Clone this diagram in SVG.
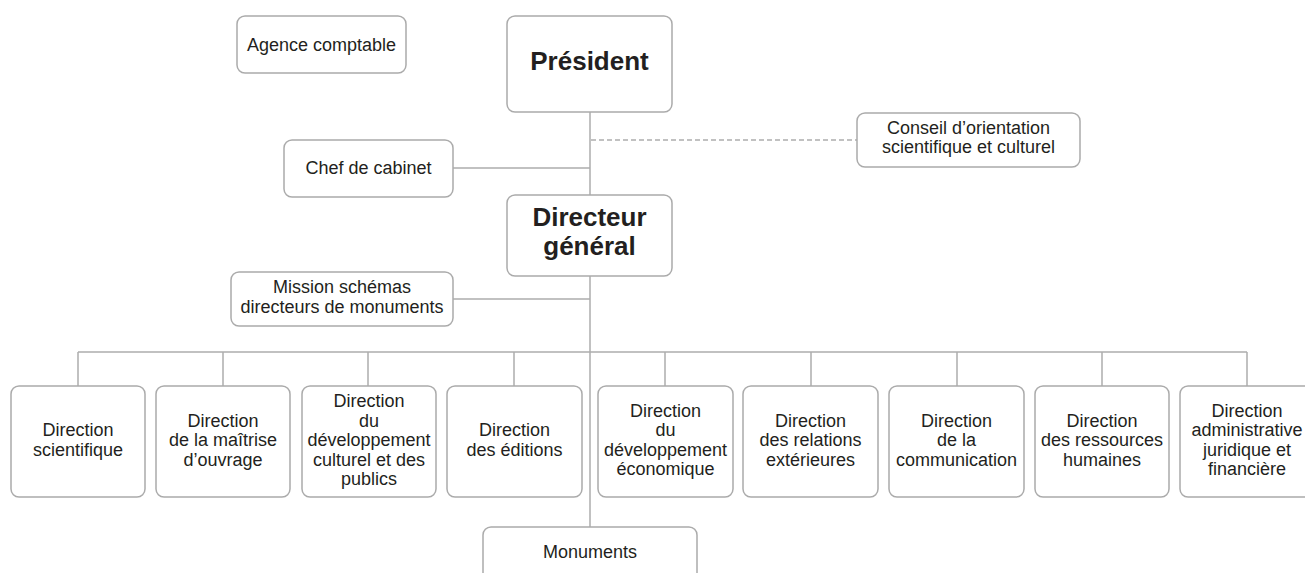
<svg xmlns="http://www.w3.org/2000/svg" width="1305" height="573" viewBox="0 0 1305 573">
<style>
.box{fill:#fff;stroke:#ababab;stroke-width:1.5}
.t{font-family:"Liberation Sans",Arial,sans-serif;font-size:18px;fill:#231f20;text-anchor:middle}
.b{font-family:"Liberation Sans",Arial,sans-serif;font-size:26px;font-weight:bold;fill:#231f20;text-anchor:middle}
.ln{stroke:#adadad;stroke-width:1.5;fill:none}
.dash{stroke:#adadad;stroke-width:1.3;stroke-dasharray:5 3;fill:none}
</style>
<rect width="1305" height="573" fill="#fff"/>
<g id="connectors">
<line class="ln" x1="590" y1="112" x2="590" y2="195"/>
<line class="ln" x1="453" y1="168" x2="590" y2="168"/>
<line class="dash" x1="591" y1="140" x2="857" y2="140"/>
<line class="ln" x1="590" y1="276" x2="590" y2="527"/>
<line class="ln" x1="453" y1="299" x2="590" y2="299"/>
<line class="ln" x1="78" y1="352" x2="1247" y2="352"/>
<line class="ln" x1="78" y1="352" x2="78" y2="386"/>
<line class="ln" x1="223" y1="352" x2="223" y2="386"/>
<line class="ln" x1="368" y1="352" x2="368" y2="386"/>
<line class="ln" x1="514" y1="352" x2="514" y2="386"/>
<line class="ln" x1="665" y1="352" x2="665" y2="386"/>
<line class="ln" x1="811" y1="352" x2="811" y2="386"/>
<line class="ln" x1="957" y1="352" x2="957" y2="386"/>
<line class="ln" x1="1102" y1="352" x2="1102" y2="386"/>
<line class="ln" x1="1247" y1="352" x2="1247" y2="386"/>
</g>
<g id="agence">
<rect class="box" x="237" y="16" width="169" height="57" rx="8"/>
<text class="t" x="321.5" y="50.5">Agence comptable</text>
</g>
<g id="president">
<rect class="box" x="507" y="16" width="165" height="96" rx="8"/>
<text class="b" x="589.5" y="70">Président</text>
</g>
<g id="conseil">
<rect class="box" x="857" y="113" width="223" height="54" rx="8"/>
<text class="t" x="968.5" y="134">Conseil d’orientation</text>
<text class="t" x="968.5" y="153">scientifique et culturel</text>
</g>
<g id="chef">
<rect class="box" x="284" y="140" width="169" height="57" rx="8"/>
<text class="t" x="368.5" y="174">Chef de cabinet</text>
</g>
<g id="directeur">
<rect class="box" x="507" y="195" width="165" height="81" rx="8"/>
<text class="b" x="589.5" y="226">Directeur</text>
<text class="b" x="589.5" y="255">général</text>
</g>
<g id="mission">
<rect class="box" x="231" y="272" width="222" height="54" rx="8"/>
<text class="t" x="342" y="293">Mission schémas</text>
<text class="t" x="342" y="313">directeurs de monuments</text>
</g>
<g id="d-scientifique">
<rect class="box" x="11" y="386" width="134" height="111" rx="8"/>
<text class="t" x="78" y="436"><tspan x="78">Direction</tspan><tspan x="78" dy="19.5">scientifique</tspan></text>
</g>
<g id="d-maitrise">
<rect class="box" x="156" y="386" width="134" height="111" rx="8"/>
<text class="t" x="223" y="426.5"><tspan x="223">Direction</tspan><tspan x="223" dy="19.5">de la maîtrise</tspan><tspan x="223" dy="19.5">d’ouvrage</tspan></text>
</g>
<g id="d-culturel">
<rect class="box" x="302" y="386" width="134" height="111" rx="8"/>
<text class="t" x="369" y="407"><tspan x="369">Direction</tspan><tspan x="369" dy="19.5">du</tspan><tspan x="369" dy="19.5">développement</tspan><tspan x="369" dy="19.5">culturel et des</tspan><tspan x="369" dy="19.5">publics</tspan></text>
</g>
<g id="d-editions">
<rect class="box" x="447" y="386" width="135" height="111" rx="8"/>
<text class="t" x="514.5" y="436"><tspan x="514.5">Direction</tspan><tspan x="514.5" dy="19.5">des éditions</tspan></text>
</g>
<g id="d-economique">
<rect class="box" x="598" y="386" width="135" height="111" rx="8"/>
<text class="t" x="665.5" y="416.5"><tspan x="665.5">Direction</tspan><tspan x="665.5" dy="19.5">du</tspan><tspan x="665.5" dy="19.5">développement</tspan><tspan x="665.5" dy="19.5">économique</tspan></text>
</g>
<g id="d-relations">
<rect class="box" x="743" y="386" width="135" height="111" rx="8"/>
<text class="t" x="810.5" y="426.5"><tspan x="810.5">Direction</tspan><tspan x="810.5" dy="19.5">des relations</tspan><tspan x="810.5" dy="19.5">extérieures</tspan></text>
</g>
<g id="d-communication">
<rect class="box" x="889" y="386" width="135" height="111" rx="8"/>
<text class="t" x="956.5" y="426.5"><tspan x="956.5">Direction</tspan><tspan x="956.5" dy="19.5">de la</tspan><tspan x="956.5" dy="19.5">communication</tspan></text>
</g>
<g id="d-rh">
<rect class="box" x="1035" y="386" width="134" height="111" rx="8"/>
<text class="t" x="1102" y="426.5"><tspan x="1102">Direction</tspan><tspan x="1102" dy="19.5">des ressources</tspan><tspan x="1102" dy="19.5">humaines</tspan></text>
</g>
<g id="d-administrative">
<rect class="box" x="1180" y="386" width="134" height="111" rx="8"/>
<text class="t" x="1247" y="416.5"><tspan x="1247">Direction</tspan><tspan x="1247" dy="19.5">administrative</tspan><tspan x="1247" dy="19.5">juridique et</tspan><tspan x="1247" dy="19.5">financière</tspan></text>
</g>
<g id="monuments">
<rect class="box" x="483" y="527" width="214" height="60" rx="8"/>
<text class="t" x="590" y="558">Monuments</text>
</g>
</svg>
